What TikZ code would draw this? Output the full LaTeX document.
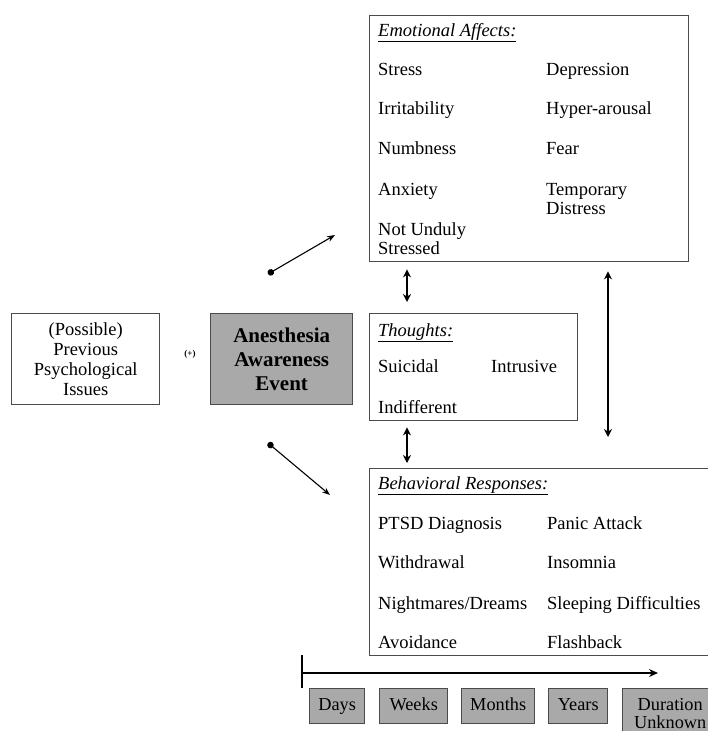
\documentclass[tikz,border=0pt]{standalone}
\usepackage{fontspec}
\setmainfont{Liberation Serif}
\usetikzlibrary{arrows.meta}
\definecolor{boxgray}{RGB}{169,169,169}
\definecolor{framegray}{RGB}{75,75,75}
\newcommand{\itemfont}{\fontsize{18.5}{19}\selectfont}
\newcommand{\headtext}[1]{\underline{\textit{#1}}}

\begin{document}
\begin{tikzpicture}[x=1pt, y=-1pt,
		panel/.style={draw=framegray, line width=1.4pt, anchor=north west, inner sep=0pt},
		shaded/.style={panel, fill=boxgray},
		entry/.style={anchor=base west, inner sep=0pt, font=\itemfont, align=left},
		period/.style={shaded, font=\fontsize{18.3}{18}\selectfont, text height=12.5pt, text depth=4pt, minimum height=35pt},
		link/.style={line width=1.1pt, {Circle[length=6.5pt]}-{Stealth[length=8pt, width=6pt]}},
		both/.style={line width=2.2pt, {Stealth[length=8pt, width=8pt]}-{Stealth[length=8pt, width=8pt]}}]
		\useasboundingbox (0,0) rectangle (707,731);
		
		% boxes
		\node[panel, minimum width=148pt, minimum height=91pt] (prev) at (11,313) {};
		\node[shaded, minimum width=142pt, minimum height=91pt] (event) at (210,313) {};
		\node[panel, minimum width=319pt, minimum height=246pt] (emo) at (369,15) {};
		\node[panel, minimum width=208pt, minimum height=107pt] (thought) at (369,313) {};
		\node[panel, minimum width=350pt, minimum height=187pt] (behav) at (369,468) {};
		
		\node[align=center, font=\fontsize{18.5}{20}\selectfont] (prevtext) at (prev.center) {(Possible)\\Previous\\Psychological\\Issues};
		\node[align=center, font=\fontsize{21}{24}\selectfont\bfseries] (eventtext) at (event.center) {Anesthesia\\Awareness\\Event};
		\node[font=\fontsize{9}{9}\selectfont\bfseries] (plus) at (190,354) {(+)};
		
		% emotional affects (two-line entries sit on their last line)
		\node[entry] (emohead) at (378,36) {\headtext{Emotional Affects:}};
		\node[entry] (e1) at (378,75) {Stress};
		\node[entry] (e2) at (378,114) {Irritability};
		\node[entry] (e3) at (378,154) {Numbness};
		\node[entry] (e4) at (378,195) {Anxiety};
		\node[entry] (e5) at (378,254) {Not Unduly\\Stressed};
		\node[entry] (e6) at (546,75) {Depression};
		\node[entry] (e7) at (546,114) {Hyper-arousal};
		\node[entry] (e8) at (546,154) {Fear};
		\node[entry] (e9) at (546,214) {Temporary\\Distress};
		
		% thoughts
		\node[entry] (thhead) at (378,336) {\headtext{Thoughts:}};
		\node[entry] (t1) at (378,372) {Suicidal};
		\node[entry] (t2) at (491,372) {Intrusive};
		\node[entry] (t3) at (378,413) {Indifferent};
		
		% behavioral responses
		\node[entry] (bhhead) at (378,489) {\headtext{Behavioral Responses:}};
		\node[entry] (b1) at (378,529) {PTSD Diagnosis};
		\node[entry] (b2) at (378,568) {Withdrawal};
		\node[entry] (b3) at (378,609) {Nightmares/Dreams};
		\node[entry] (b4) at (378,648) {Avoidance};
		\node[entry] (b5) at (547,529) {Panic Attack};
		\node[entry] (b6) at (547,568) {Insomnia};
		\node[entry] (b7) at (547,609) {Sleeping Difficulties};
		\node[entry] (b8) at (547,648) {Flashback};
		
		% arrows
		\coordinate (up0) at (268,274);
		\coordinate (up1) at (335,235);
		\coordinate (dn0) at (268,443);
		\coordinate (dn1) at (330,495);
		\coordinate (lx) at (407,0);
		\coordinate (rx) at (608,0);	% x of the long arrow
		\draw[link] (up0) -- (up1);
		\draw[link] (dn0) -- (dn1);
		\draw[both, shorten <=7pt, shorten >=11pt] (emo.south -| lx) -- (thought.north -| lx);
		\draw[both, shorten <=6pt, shorten >=5pt] (thought.south -| lx) -- (behav.north -| lx);
		\draw[both, shorten <=9pt, shorten >=31pt] (emo.south -| rx) -- (behav.north -| rx);
		
		% time line
		\coordinate (T0) at (302,673);
		\coordinate (T1) at (658,673);
		\coordinate (Ta) at (302,655);
		\coordinate (Tb) at (302,688);
		\draw[line width=2pt] (Ta) -- (Tb);
		\draw[line width=2pt, -{Stealth[length=9pt, width=8pt]}] (T0) -- (T1);
		\node[period, minimum width=55pt] (days) at (309,688) {Days};
		\node[period, minimum width=68pt] (weeks) at (379,688) {Weeks};
		\node[period, minimum width=73pt] (months) at (461,688) {Months};
		\node[period, minimum width=59pt] (years) at (548,688) {Years};
		\node[shaded, font=\fontsize{18.3}{18}\selectfont, align=center, minimum width=95pt, minimum height=50pt] (unknown) at (622,688) {Duration\\Unknown};
	\end{tikzpicture}
\end{document}
